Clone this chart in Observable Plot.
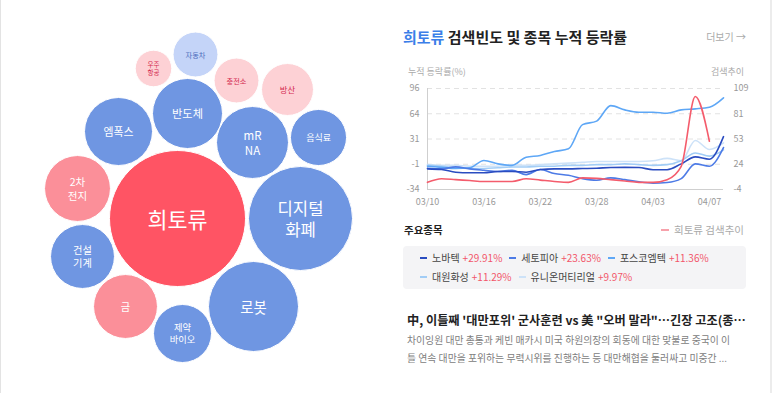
<!DOCTYPE html>
<html><head><meta charset="utf-8">
<script src="https://cdn.jsdelivr.net/npm/d3@7"></script>
<script src="https://cdn.jsdelivr.net/npm/@observablehq/plot@0.6"></script>
<style>
body{margin:0;background:#fff;font-family:"Noto Sans CJK KR","Noto Sans",sans-serif;}
#root{position:relative;width:773px;height:393px;overflow:hidden;background:#fff;}
.abs{position:absolute;white-space:nowrap;}
#frame{position:absolute;left:0;top:0;width:769px;height:393px;border-left:1px solid #e3e3e3;border-right:2px solid #ececec;}
.row{position:absolute;left:17px;display:flex;align-items:center;font-size:10px;line-height:14px;}
.item{display:flex;align-items:center;margin-right:7px;}
.dash{display:inline-block;width:7px;height:1.5px;margin-right:5px;}
.nm{color:#444;margin-right:3px;}
.pc{color:#f2566a;}
</style></head><body><div id="root">
<div id="frame"></div>
<div id="bubbles" class="abs" style="left:0;top:0"></div>
<div class="abs" style="left:403px;top:27px;font-size:15px;line-height:20px;font-weight:700;color:#222;"><span style="color:#3b7ee8">희토류</span> 검색빈도 및 종목 누적 등락률</div>
<div class="abs" style="right:27px;top:30px;font-size:10px;line-height:14px;color:#aaa;">더보기 →</div>
<div class="abs" style="left:408px;top:66px;font-size:9px;line-height:12px;color:#aaa;">누적 등락률(%)</div>
<div class="abs" style="right:29px;top:66px;font-size:9px;line-height:12px;color:#aaa;">검색추이</div>
<div id="lines" class="abs" style="left:390px;top:80px"></div>
<div class="abs" style="left:404px;top:223px;font-size:10.5px;line-height:14px;font-weight:700;color:#222;">주요종목</div>
<div class="abs" style="right:29px;top:223px;font-size:10.5px;line-height:14px;color:#aaa;display:flex;align-items:center;"><span class="dash" style="background:#f7a1ab;width:8px;"></span>희토류 검색추이</div>
<div id="legend" class="abs" style="left:403px;top:246px;width:343px;height:43px;background:#f4f4f6;border-radius:4px;"></div>
<div class="abs" style="left:407px;top:312px;font-size:12.2px;line-height:16px;font-weight:700;color:#222;">中, 이틀째 '대만포위' 군사훈련 vs 美 "오버 말라"…긴장 고조(종…</div>
<div class="abs" style="left:407px;top:331px;font-size:9.85px;line-height:18px;color:#808080;">차이잉원 대만 총통과 케빈 매카시 미국 하원의장의 회동에 대한 맞불로 중국이 이<br>틀 연속 대만을 포위하는 무력시위를 진행하는 등 대만해협을 둘러싸고 미중간 ...</div>
</div>
<script>
// ---------- bubble data ----------
const bubbleNames  = ["희토류","디지털\n화폐","로봇","mR\nNA","반도체","엠폭스","2차\n전지","건설\n기계","금","제약\n바이오","음식료","방산","자동차","충전소","우주\n항공"];
const bubbleValues = [100, 58.5, 43.8, 28, 26.5, 25, 23.5, 22.1, 22.1, 18.2, 17, 14.6, 10.9, 10.9, 7.2];
const bubbleGroup  = ["focus","blue","blue","blue","blue","blue","pink","blue","pink","blue","blue","lightpink","lightblue","lightpink","lightpink"];
const bubbleX      = [177, 300, 253, 252, 187, 118, 77, 82, 125, 182, 318, 287, 195, 236, 153];
const bubbleY      = [218, 218, 306, 142, 113, 131, 188, 256, 306, 333, 137, 89, 54, 80, 68];

// ---------- line chart data ----------
const dates = ["03/10","03/13","03/14","03/15","03/16","03/17","03/20","03/21","03/22","03/23","03/24","03/27","03/28","03/29","03/30","03/31","04/03","04/04","04/05","04/06","04/07","04/10"];
const xTickLabels = ["03/10","03/16","03/22","03/28","04/03","04/07"];
const stockNames   = ["노바텍","세토피아","포스코엠텍","대원화성","유니온머티리얼"];
const stockChanges = ["+29.91%","+23.63%","+11.36%","+11.29%","+9.97%"];
const novatech  = [-7.4,-8.3,-11.7,-12.5,-12.5,-10.8,-10.8,-11.7,-8.3,-7.4,-7.4,-7,-6.6,-5.7,-5.5,-5.7,-8.5,-8.5,-1,8,5,34];
const setopia   = [-6.6,-7.4,-4.9,-7.4,-9.2,-10.8,-9.2,-14.8,-8.3,-13.5,-15.7,-20,-22,-19,-21.3,-24.2,-25.8,-25,-20,-1,-4,20];
const poscoMtech= [-4,-5.5,-7,-6,3.3,-1,-3,7.6,9.8,14.9,18.3,49.5,54,74,68.5,65.5,65.5,64.2,68.5,69.8,71.9,84];
const daewon    = [-3,-4,-6,-7,-7,-6,-5,-5,-4,-4,-3,-3,-2,-2,-1,-2,-3,-2,3,13,9,17];
const union     = [-2,-3,-3,-4,-4,-4,-3,-3,-2,-1,0,1,2,2,2,2,3,6,3,29,17.5,26];
const searchTrend = [4,8,7,6,5,5,5,8,6.5,5,4,9,8.5,7,5.5,4,4,7,22,100,50];
const leftTickLabels  = [-34,-1,31,64,96];
const rightTickLabels = [-4,24,53,81,109];

const fontStack = '"Noto Sans CJK KR","Noto Sans",sans-serif';

// ---------- bubbles ----------
const fillColors = {focus:"#ff5464", blue:"#6f96e2", pink:"#fb8f99", lightpink:"#fdd1d5", lightblue:"#c4d4f8"};
const textColors = {focus:"#ffffff", blue:"#ffffff", pink:"#ffffff", lightpink:"#d42a50", lightblue:"#4d6dbd"};
const bubbles = bubbleNames.map((name, i) => ({name, value: bubbleValues[i], group: bubbleGroup[i], x: bubbleX[i], y: bubbleY[i]}));
const rMax = 68;
const rpx = v => Math.sqrt(v / 100) * rMax;
const bubblePlot = Plot.plot({
  width: 390, height: 393, margin: 0,
  x: {domain: [0, 390], axis: null},
  y: {domain: [0, 393], range: [0, 393], axis: null},
  r: {type: "sqrt", domain: [0, 100], range: [0, rMax]},
  style: {fontFamily: fontStack, background: "transparent"},
  marks: [
    Plot.dot(bubbles, {x: "x", y: "y", r: "value", fill: d => fillColors[d.group], stroke: "#fff", strokeWidth: 1}),
    Plot.text(bubbles, {x: "x", y: "y", text: "name", fill: d => textColors[d.group],
      fontSize: d => Math.max(6.5, rpx(d.value) * 0.32), fontWeight: d => d.group.startsWith("light") ? 600 : 500, lineHeight: 1.3})
  ]
});
document.getElementById("bubbles").appendChild(bubblePlot);

// ---------- line chart ----------
const yMin = leftTickLabels[0], yMax = leftTickLabels[leftTickLabels.length - 1];
const r0 = rightTickLabels[0], r1 = rightTickLabels[rightTickLabels.length - 1];
const tickPos = leftTickLabels.map((_, i) => yMin + i * (yMax - yMin) / (leftTickLabels.length - 1));
const stockColors = ["#2a4cc0", "#4d7be6", "#5ea7f6", "#a2cdf6", "#cde2f8"];
const stockSeries = [novatech, setopia, poscoMtech, daewon, union];
const rows = [];
stockSeries.forEach((s, k) => s.forEach((v, i) => rows.push({name: stockNames[k], i, v})));
const searchRows = searchTrend.map((v, i) => ({i, v: yMin + (v - r0) * (yMax - yMin) / (r1 - r0)}));
const drawOrder = [4, 3, 2, 1, 0];

const linePlot = Plot.plot({
  width: 370, height: 130,
  marginLeft: 37, marginRight: 37, marginTop: 8, marginBottom: 21,
  x: {domain: [0, dates.length - 1], label: null},
  y: {domain: [yMin, yMax], label: null},
  style: {fontFamily: fontStack, fontSize: "9px", color: "#999", background: "transparent"},
  marks: [
    Plot.gridY(tickPos.slice(1), {stroke: "#e2e2e2", strokeOpacity: 1, strokeDasharray: "5,4"}),
    Plot.ruleY([yMin], {stroke: "#cfcfcf"}),
    Plot.ruleX([0], {stroke: "#cfcfcf"}),
    Plot.axisX(xTickLabels.map(l => dates.indexOf(l)), {tickSize: 0, tickPadding: 9, tickFormat: i => dates[i], label: null, fill: "#999"}),
    Plot.axisY(tickPos, {anchor: "left", tickSize: 0, tickPadding: 8, tickFormat: d => leftTickLabels[tickPos.indexOf(d)], label: null, fill: "#999"}),
    Plot.axisY(tickPos, {anchor: "right", tickSize: 0, tickPadding: 10, tickFormat: d => rightTickLabels[tickPos.indexOf(d)], label: null, fill: "#999"}),
    ...drawOrder.map(k => Plot.line(rows.filter(r => r.name === stockNames[k]), {x: "i", y: "v", stroke: stockColors[k], strokeWidth: 1.6, curve: "monotone-x"})),
    Plot.line(searchRows, {x: "i", y: "v", stroke: "#f45c6c", strokeWidth: 1.6, curve: "monotone-x"})
  ]
});
document.getElementById("lines").appendChild(linePlot);

// ---------- legend ----------
const legend = document.getElementById("legend");
[[0, 1, 2], [3, 4]].forEach((idxs, r) => {
  const row = document.createElement("div");
  row.className = "row";
  row.style.top = (r === 0 ? 5 : 24) + "px";
  idxs.forEach(k => {
    const it = document.createElement("span");
    it.className = "item";
    it.innerHTML = `<span class="dash" style="background:${stockColors[k]}"></span><span class="nm">${stockNames[k]}</span><span class="pc">${stockChanges[k]}</span>`;
    row.appendChild(it);
  });
  legend.appendChild(row);
});
</script>
</body></html>
